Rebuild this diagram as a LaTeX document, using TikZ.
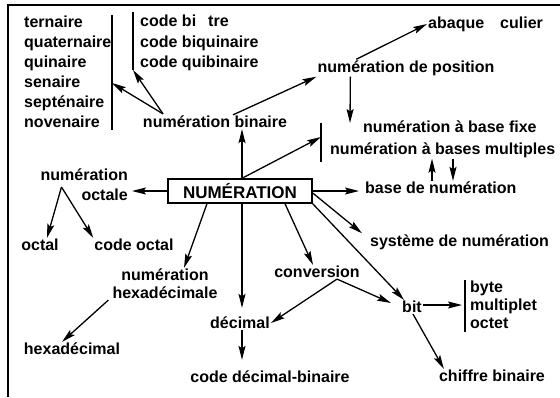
\documentclass[tikz,border=0pt]{standalone}
\usepackage{fontspec}
\setmainfont{Liberation Sans}
\usetikzlibrary{arrows.meta}

\begin{document}
\begin{tikzpicture}[
    x=1pt, y=-1pt,
    lbl/.style={font=\bfseries\fontsize{16}{20}\selectfont, inner sep=1pt},
    lst/.style={lbl, align=left, anchor=west},
    hub/.style={draw, line width=1.4pt, minimum width=144pt, minimum height=24pt, inner sep=2pt, font=\bfseries\fontsize{17}{19}\selectfont},
    arr/.style={-{Stealth[length=14pt,width=7pt,inset=2.5pt]}, line width=1.3pt},
    bar/.style={line width=1.3pt},
]
\useasboundingbox (0,0) rectangle (560,397);
\draw[bar] (8,397) -- (8,5) -- (560,5);

% centre
\node[hub] (numer) at (240,191) {NUMÉRATION};

% upper left
\node[lst] (radix) at (23,72) {ternaire\\quaternaire\\quinaire\\senaire\\septénaire\\novenaire};
\node[lst, font=\bfseries\fontsize{16}{20.5}\selectfont] (codes) at (139,43) {code bi\hspace{12pt}tre\\code biquinaire\\code quibinaire};
\node[lbl] (binr) at (215,122) {numération binaire};
\draw[bar] (112,15) -- (112,130);
\draw[bar] (133,12) -- (133,70);
\coordinate (radixbar) at (112,83);
\coordinate (codesbar) at (133,70);

% upper right
\node[lbl] (posn) at (406,68) {numération de position};
\node[lbl, anchor=west] (abaq) at (427,24) {abaque\hspace{16pt}culier};
\node[lbl, anchor=west] (fixe) at (362,127) {numération à base fixe};
\node[lbl, anchor=west] (multi) at (329,150) {numération à bases multiples};
\node[lbl, anchor=west] (based) at (364,188) {base de numération};
\node[lbl, anchor=west] (syst) at (369,242) {système de numération};
\draw[bar] (321,123) -- (321,162);
\coordinate (multibar) at (321,137);

% left
\node[lbl, align=right, anchor=east] (octa) at (129,185) {numération\\octale};
\node[lbl] (octl) at (40,245) {octal};
\node[lbl] (coct) at (134,245) {code octal};
\node[lbl, align=center, font=\bfseries\fontsize{16}{18}\selectfont] (hexa) at (165,284) {numération\\hexadécimale};
\node[lbl] (hexl) at (72,349) {hexadécimal};

% bottom
\node[lbl] (deci) at (240,323) {décimal};
\node[lbl] (cdb) at (270,377) {code décimal-binaire};
\node[lbl] (conv) at (317,272) {conversion};
\node[lbl] (bit) at (412,307) {bit};
\node[lst, font=\bfseries\fontsize{16}{18}\selectfont] (bytes) at (469,305) {byte\\multiplet\\octet};
\node[lbl] (chif) at (492,376) {chiffre binaire};
\draw[bar] (465,280) -- (465,332);

\draw[arr] ([xshift=-52pt,yshift=1pt]binr.north) -- (radixbar);
\draw[arr] ([xshift=-52pt,yshift=1pt]binr.north) -- (codesbar);
\draw[arr] ([xshift=18pt]binr.north) -- (posn.south west);
\draw[arr] ([xshift=40pt]posn.north west) -- (abaq.west);
\draw[arr] ([xshift=34pt]posn.south west) -- ([xshift=-12pt,yshift=4pt]fixe.west);

\draw[arr] ([xshift=2pt]numer.north) -- ([xshift=27pt]binr.south);
\draw[arr] ([xshift=2pt]numer.north) -- (multibar);
\draw[arr, shorten >=5pt] (numer.east) -- (numer.east -| based.west);
\draw[arr] ([xshift=68pt]based.north west) -- ([xshift=103pt]multi.south west);
\draw[arr] ([xshift=124pt]multi.south west) -- ([xshift=89pt]based.north west);
\draw[arr] ([yshift=-2pt]numer.east) -- ([xshift=-7pt]syst.north west);

\draw[arr, shorten >=3pt] (numer.west) -- (numer.west -| octa.east);
\draw[arr] ([xshift=22pt,yshift=-2pt]octa.west) -- ([xshift=7pt]octl.north);
\draw[arr] ([xshift=22pt,yshift=-2pt]octa.west) -- (coct.north west);
\draw[arr] ([xshift=-33pt]numer.south) -- ([xshift=19pt]hexa.north);
\draw[arr] ([xshift=-3pt]hexa.south west) -- ([xshift=-10pt]hexl.north);

\draw[arr, shorten >=8pt] ([xshift=2pt]numer.south) -- ([xshift=2pt]deci.north);
\draw[arr, shorten >=10pt] ([xshift=2pt]deci.south) -- ([xshift=2pt]deci.south |- cdb.north);
\draw[arr] ([xshift=45pt]numer.south) -- ([xshift=-4pt]conv.north);
\draw[arr] ([xshift=20pt]conv.south) -- (deci.east);
\draw[arr] ([xshift=20pt]conv.south) -- ([xshift=-10pt,yshift=4pt]bit.west);
\draw[arr] (numer.south east) -- ([xshift=-8pt]bit.north);
\draw[arr] ([yshift=2pt]bit.east) -- ([xshift=-7pt]bytes.west);
\draw[arr] ([xshift=1pt]bit.south) -- ([xshift=6pt]chif.north west);

\end{tikzpicture}
\end{document}
